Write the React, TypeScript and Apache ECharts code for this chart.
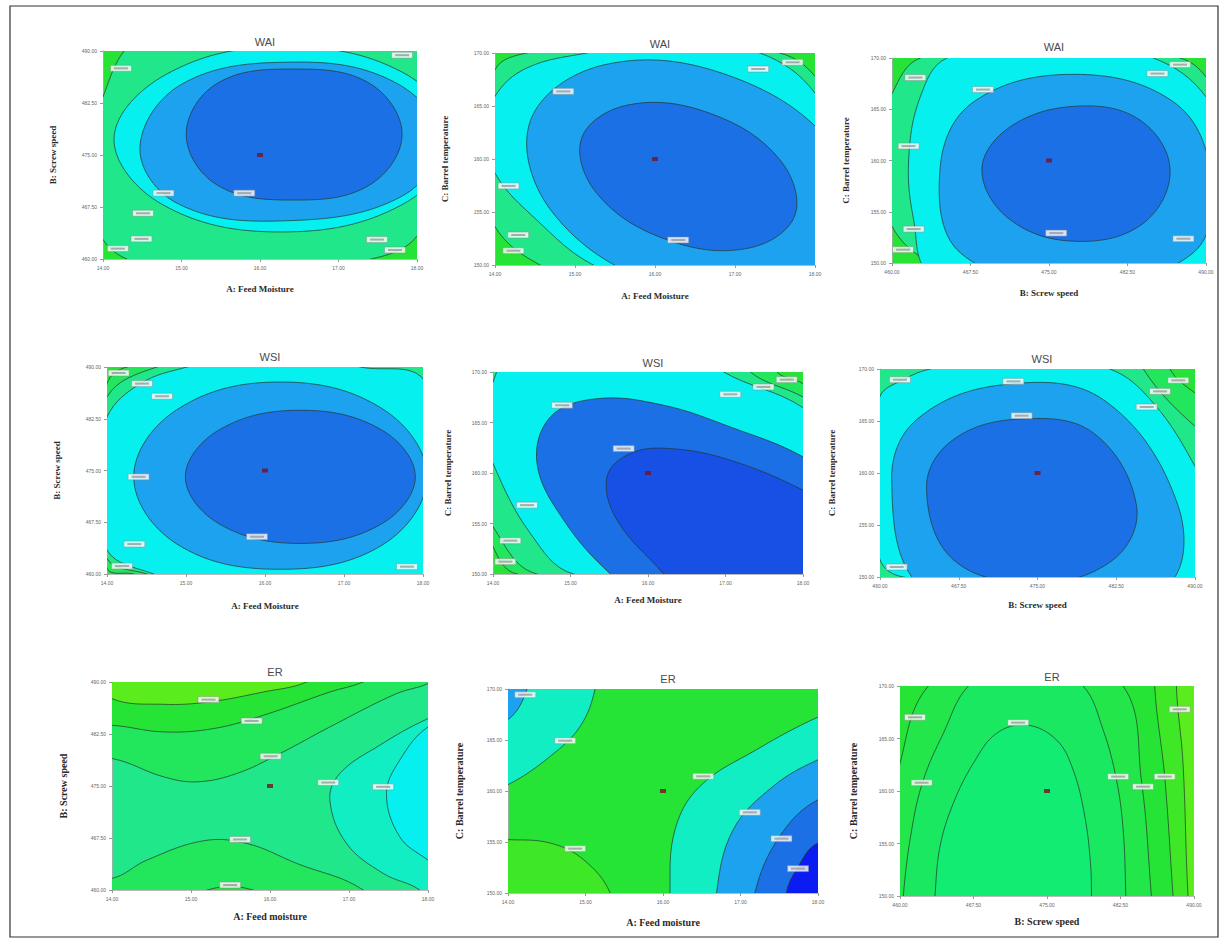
import React, { useEffect, useRef } from "react";
import * as echarts from "echarts";

// ---------- axis tick values ----------
const feedMoistureTicks = [14, 15, 16, 17, 18];
const screwSpeedTicks = [460, 467.5, 475, 482.5, 490];
const barrelTempTicks = [150, 155, 160, 165, 170];

// ---------- contour regions (band index, vertices in factor units) ----------
type Region = { band: number; pts: number[][] };

const waiAB: Region[] = [
  { band: 4, pts: [[14.47, 491.6], [14.0, 483.4], [13.83, 472.9], [14.0, 462.8], [14.6, 459], [16.17, 458], [17.19, 459.4], [18.0, 463.3], [18.3, 475.3], [18.3, 491.6], [16.17, 492.5]] },
  { band: 6, pts: [[14.14, 477.4], [14.8, 486.6], [16.26, 490.6], [17.82, 486.9], [18.46, 477.4], [17.82, 467.9], [16.26, 463.9], [14.75, 467.9]] },
  { band: 7, pts: [[14.47, 476], [15.0, 485.2], [16.4, 488.4], [17.7, 485.6], [18.3, 477.5], [17.8, 469], [16.3, 465.5], [14.95, 468]] },
  { band: 8, pts: [[15.06, 478], [15.45, 485.3], [16.43, 487.4], [17.4, 485.3], [17.81, 478], [17.4, 470.7], [16.43, 468.5], [15.45, 470.7]] },
];
const waiABLabels = [[14.23, 487.5], [17.81, 489.4], [14.77, 469.5], [15.8, 469.5], [14.51, 466.6], [14.49, 462.9], [14.19, 461.5], [17.49, 462.8], [17.72, 461.3]];

const waiAC: Region[] = [
  { band: 4, pts: [[14.396, 170], [16.104, 171.89], [17.5625, 170], [18.0, 167.8], [18.604, 160.55], [18.604, 144.8], [16.104, 144.8], [14.5625, 150.0], [14.0, 153.62], [13.729, 160.55], [14.0, 168.43]] },
  { band: 6, pts: [[15.146, 170], [16.229, 171.26], [17.313, 170], [18.0, 166.22], [18.604, 157.4], [18.396, 146.38], [16.521, 146.38], [15.229, 150.0], [14.521, 154.25], [14.0, 158.66], [13.896, 162.44], [14.0, 165.91], [14.396, 168.58]] },
  { band: 7, pts: [[18.516, 152.43], [17.587, 147.17], [16.009, 148.26], [14.707, 155.08], [14.443, 163.63], [15.372, 168.9], [16.95, 167.8], [18.252, 160.98]] },
  { band: 8, pts: [[17.748, 154.68], [17.157, 151.57], [16.132, 152.43], [15.273, 156.75], [15.085, 162.01], [15.677, 165.12], [16.702, 164.27], [17.56, 159.94]] },
];
const waiACLabels = [[14.854, 166.38], [17.72, 169.12], [17.29, 168.49], [14.17, 157.46], [14.29, 152.83], [14.23, 151.35], [16.29, 152.36]];

const waiBC: Region[] = [
  { band: 4, pts: [[462.7, 170], [475.43, 172.37], [487.52, 170], [490.0, 168.15], [494.52, 160.7], [494.52, 144.49], [475.43, 144.49], [463.66, 150.0], [460.0, 153.57], [457.93, 160.7], [460.0, 166.53]] },
  { band: 6, pts: [[465.25, 170], [475.43, 172.04], [484.98, 170], [490.0, 166.21], [493.25, 158.76], [491.98, 147.09], [475.43, 145.79], [463.66, 149.03], [462.07, 154.21], [461.59, 160.05], [462.7, 166.21]] },
  { band: 7, pts: [[464.61, 159.4], [467.8, 165.72], [477.34, 168.41], [486.89, 165.72], [490.38, 159.08], [488.79, 151.0], [477.34, 148.1], [466.52, 151.0]] },
  { band: 8, pts: [[468.59, 159.08], [471.3, 163.29], [477.66, 165.3], [483.7, 163.94], [486.57, 159.08], [484.02, 153.89], [477.66, 152.11], [471.3, 154.21]] },
];
const waiBCLabels = [[462.23, 168.09], [487.52, 169.35], [485.36, 168.48], [468.69, 166.92], [461.59, 161.41], [462.07, 153.31], [461.05, 151.3], [475.69, 152.92], [487.84, 152.37]];

const wsiAB: Region[] = [
  { band: 3, pts: [[14.253, 490], [16.11, 493.86], [18.219, 493.86], [18.43, 474.08], [18.219, 454.3], [16.11, 454.3], [14.338, 460], [14, 460.82], [13.789, 474.08], [14, 487.59]] },
  { band: 4, pts: [[14.633, 490], [16.11, 493.86], [18.43, 493.86], [18.473, 474.08], [18.43, 454.3], [16.11, 454.3], [14.506, 460], [14, 462.26], [13.831, 474.08], [14, 485.66]] },
  { band: 6, pts: [[15.013, 490], [16.11, 492.89], [17.207, 490], [18.0, 488.31], [18.473, 474.08], [18.219, 455.75], [16.11, 454.3], [14.591, 460], [14.0, 463.47], [13.873, 474.08], [14.0, 482.76], [14.422, 487.59]] },
  { band: 7, pts: [[14.338, 474.08], [14.882, 483.8], [16.194, 487.83], [17.506, 483.8], [18.051, 474.08], [17.506, 464.36], [16.194, 460.68], [14.882, 464.36]] },
  { band: 8, pts: [[14.992, 474.08], [15.418, 480.88], [16.447, 483.73], [17.477, 480.88], [17.903, 474.08], [17.477, 467.28], [16.447, 464.43], [15.418, 467.28]] },
];
const wsiABLabels = [[14.148, 489.13], [14.443, 487.59], [14.696, 485.76], [14.4, 474.08], [14.346, 464.34], [14.19, 461.15], [15.899, 465.4], [17.797, 461.06]];

const wsiAC: Region[] = [
  { band: 3, pts: [[13.535, 173.46], [17.665, 171.81], [17.665, 170], [18.0, 168.85], [18.654, 165.22], [18.654, 145.45], [14.31, 150.0], [14.0, 152.7], [13.535, 161.93]] },
  { band: 4, pts: [[13.535, 173.46], [17.32, 171.81], [17.32, 170], [18.0, 167.53], [18.611, 164.56], [18.611, 145.45], [14.568, 150.0], [14.0, 154.68], [13.535, 161.93]] },
  { band: 6, pts: [[14.181, 171.15], [16.933, 171.15], [16.976, 170], [18.0, 166.47], [18.568, 161.93], [18.568, 145.45], [15.041, 150.0], [14.482, 154.02], [14.0, 160.94], [13.837, 165.22], [14.0, 169.01]] },
  { band: 8, pts: [[15.514, 150.0], [14.912, 155.34], [14.568, 160.94], [14.74, 165.55], [15.342, 167.36], [16.202, 166.71], [17.062, 164.56], [18.0, 161.6], [18.611, 157.97], [18.611, 145.45], [16.202, 146.11]] },
  { band: 9, pts: [[16.202, 150.0], [15.6, 155.34], [15.471, 159.62], [15.772, 161.93], [16.288, 162.42], [17.062, 161.27], [18.0, 158.3], [18.611, 155.34], [18.611, 145.45], [16.632, 146.11]] },
];
const wsiACLabels = [[14.89, 166.71], [15.686, 162.42], [17.062, 167.79], [17.49, 168.52], [17.79, 169.24], [14.439, 156.82], [14.224, 153.3], [14.159, 151.22]];

const wsiBC: Region[] = [
  { band: 3, pts: [[456.19, 172.82], [487.62, 172.18], [487.62, 170], [490, 167.69], [493.97, 165.13], [493.97, 145.9], [456.19, 145.9]] },
  { band: 4, pts: [[456.19, 172.82], [485.08, 172.18], [485.08, 170], [490, 164.49], [493.97, 161.92], [493.97, 145.9], [456.19, 145.9]] },
  { band: 6, pts: [[464.76, 170], [473.33, 171.54], [481.9, 170], [486.03, 166.73], [490, 160.64], [493.97, 152.31], [492.38, 145.9], [462.22, 150], [460, 151.67], [458.73, 160.32], [460, 167.37], [462.22, 168.97]] },
  { band: 7, pts: [[461.11, 159.36], [463.49, 165.13], [471.75, 168.49], [481.27, 167.05], [488.41, 156.79], [487.3, 149.1], [474.92, 145.9], [463.81, 149.1]] },
  { band: 8, pts: [[464.44, 158.72], [466.98, 163.21], [473.33, 165.19], [480.32, 163.85], [484.44, 156.79], [482.22, 151.67], [474.92, 149.42], [466.98, 151.67]] },
];
const wsiBCLabels = [[461.9, 168.97], [472.7, 168.81], [473.49, 165.51], [488.41, 168.91], [486.67, 167.85], [485.4, 166.35], [461.59, 150.96]];

const erAB: Region[] = [
  { band: 3, pts: [[13.389, 492.64], [13.389, 478.96], [14, 478.96], [14.653, 476.32], [15.074, 475.6], [15.579, 476.8], [16.126, 479.68], [16.758, 483.52], [17.6, 488.32], [18, 489.76], [18.442, 492.64]] },
  { band: 2, pts: [[13.389, 492.64], [13.389, 483.76], [14, 483.76], [14.653, 482.8], [15.284, 483.28], [15.916, 485.2], [16.758, 488.56], [17.179, 490], [17.6, 492.64]] },
  { band: 0, pts: [[13.389, 492.64], [14, 487.6], [14.653, 486.78], [15.221, 487.12], [15.916, 488.56], [16.463, 490], [16.758, 492.64]] },
  { band: 3, pts: [[13.389, 454.23], [13.389, 461.68], [14, 461.68], [14.442, 464.32], [15.158, 467.1], [15.705, 466.72], [16.337, 463.84], [17.179, 460], [17.6, 454.23]] },
  { band: 2, pts: [[14.864, 458.07], [15.495, 460.57], [16.126, 458.07]] },
  { band: 5, pts: [[18.442, 486.4], [18, 484.72], [17.389, 480.88], [16.884, 476.8], [16.758, 472.96], [16.968, 466.72], [17.432, 462.4], [17.895, 460], [18.442, 454.23]] },
  { band: 6, pts: [[18.442, 484.96], [18, 483.52], [17.642, 478.72], [17.474, 473.92], [17.642, 467.68], [18, 464.32], [18.442, 460.96]] },
];
const erABLabels = [[15.221, 487.46], [15.768, 484.38], [16.008, 479.29], [16.737, 475.5], [17.432, 474.88], [15.621, 467.29], [15.495, 460.72]];

const erAC: Region[] = [
  { band: 1, pts: [[13.558, 155.23], [14, 155.23], [14.545, 154.9], [14.974, 153.27], [15.318, 150], [15.361, 146.41], [13.558, 146.41]] },
  { band: 5, pts: [[13.558, 172.55], [15.124, 172.55], [15.124, 170], [14.931, 166.34], [14.545, 163.4], [14, 160.62], [13.558, 159.48]] },
  { band: 7, pts: [[13.558, 172.55], [14.245, 172.55], [14.245, 170], [14, 166.99], [13.558, 166.01]] },
  { band: 5, pts: [[18.708, 169.28], [18, 167.25], [17.206, 164.05], [16.476, 160.46], [16.155, 156.21], [16.09, 150], [16.133, 146.41], [18.708, 146.41]] },
  { band: 7, pts: [[18.708, 165.03], [18, 163.07], [17.421, 160.46], [16.906, 156.21], [16.691, 150], [16.734, 146.41], [18.708, 146.41]] },
  { band: 8, pts: [[18.708, 160.46], [18, 159.15], [17.506, 155.56], [17.185, 150], [17.206, 146.41], [18.708, 146.41]] },
  { band: 10, pts: [[18.708, 155.56], [18, 154.9], [17.721, 152.29], [17.592, 150], [17.592, 146.41], [18.708, 146.41]] },
];
const erACLabels = [[14.223, 169.44], [14.738, 164.93], [16.519, 161.44], [17.12, 157.91], [17.528, 155.33], [17.742, 152.39], [14.867, 154.35]];

const erBC: Region[] = [
  { band: 1, pts: [[453.88, 178.51], [488.2, 178.51], [488.2, 170], [488.88, 162.63], [489.39, 150], [489.9, 145.17], [453.88, 145.17]] },
  { band: 2, pts: [[453.88, 178.51], [485.99, 178.51], [485.99, 170], [487.01, 161.37], [487.86, 150], [488.2, 145.17], [453.88, 145.17]] },
  { band: 13, pts: [[458.3, 145.17], [458.98, 156.29], [460, 162.63], [462.89, 170], [472.91, 176.92], [482.77, 170], [484.63, 161.05], [485.65, 150], [485.99, 145.17]] },
  { band: 11, pts: [[460.17, 145.17], [460.34, 150], [461.19, 156.29], [462.38, 161.05], [464.42, 165.49], [466.97, 170], [472.91, 174.06], [478.69, 170], [480.73, 165.81], [482.09, 161.05], [482.77, 156.29], [483.04, 150], [483.11, 145.17]] },
  { band: 12, pts: [[463.57, 148.35], [463.57, 150], [464.08, 154.7], [465.44, 158.83], [467.48, 162.63], [469.85, 165.49], [472.91, 166.29], [475.97, 164.86], [477.67, 162.0], [478.86, 157.56], [479.44, 153.11], [479.54, 150], [479.54, 148.35]] },
];
const erBCLabels = [[461.53, 167.02], [472.06, 166.51], [462.21, 160.79], [482.26, 161.37], [484.8, 160.41], [487.01, 161.37], [488.54, 167.78]];

// design centre point of each plot
const centerAB = [16, 475];
const centerAC = [16, 160];
const centerBC = [475, 160];

const panelTitles = ["WAI", "WAI", "WAI", "WSI", "WSI", "WSI", "ER", "ER", "ER"];
const xNames = ["A: Feed Moisture", "A: Feed Moisture", "B: Screw speed", "A: Feed Moisture", "A: Feed Moisture", "B: Screw speed", "A: Feed moisture", "A: Feed moisture", "B: Screw speed"];
const yNames = ["B: Screw speed", "C: Barrel temperature", "C: Barrel temperature", "B: Screw speed", "C: Barrel temperature", "C: Barrel temperature", "B: Screw speed", "C: Barrel temperature", "C: Barrel temperature"];

// ---------- styling / layout ----------
const bandColors = [
  "#5aec1c", "#3ee826", "#26e436", "#22e65c", "#1fe78a", "#12eec4",
  "#06f0f0", "#1ca2ee", "#1c70e6", "#1650e4", "#0a1cf2", "#1ae860",
  "#12ec72", "#22e64a",
];

type Panel = {
  regions: Region[];
  labels: number[][];
  center: number[];
  xTicks: number[];
  yTicks: number[];
  bg: number;
};

const panels: Panel[] = [
  { regions: waiAB, labels: waiABLabels, center: centerAB, xTicks: feedMoistureTicks, yTicks: screwSpeedTicks, bg: 2 },
  { regions: waiAC, labels: waiACLabels, center: centerAC, xTicks: feedMoistureTicks, yTicks: barrelTempTicks, bg: 2 },
  { regions: waiBC, labels: waiBCLabels, center: centerBC, xTicks: screwSpeedTicks, yTicks: barrelTempTicks, bg: 2 },
  { regions: wsiAB, labels: wsiABLabels, center: centerAB, xTicks: feedMoistureTicks, yTicks: screwSpeedTicks, bg: 2 },
  { regions: wsiAC, labels: wsiACLabels, center: centerAC, xTicks: feedMoistureTicks, yTicks: barrelTempTicks, bg: 2 },
  { regions: wsiBC, labels: wsiBCLabels, center: centerBC, xTicks: screwSpeedTicks, yTicks: barrelTempTicks, bg: 2 },
  { regions: erAB, labels: erABLabels, center: centerAB, xTicks: feedMoistureTicks, yTicks: screwSpeedTicks, bg: 4 },
  { regions: erAC, labels: erACLabels, center: centerAC, xTicks: feedMoistureTicks, yTicks: barrelTempTicks, bg: 2 },
  { regions: erBC, labels: erBCLabels, center: centerBC, xTicks: screwSpeedTicks, yTicks: barrelTempTicks, bg: 0 },
];

// [left, top, width, height, xNameGap, yNameGap, titleX, titleY, nameSize]
const layout = [
  [103, 51, 314, 208, 25, 46, 260, 43, 9],
  [495, 53, 320, 212, 26, 46, 655, 45, 9],
  [892, 58, 314, 205, 25, 42, 1049, 48, 9],
  [107, 367, 316, 207, 27, 46, 265, 358, 9],
  [493, 372, 310, 202, 21, 41, 648, 364, 9],
  [880, 369, 315, 208, 23, 44, 1037, 360, 9],
  [112, 682, 316, 208, 21, 44, 270, 673, 10],
  [508, 689, 310, 204, 24, 44, 663, 680, 10],
  [900, 686, 294, 210, 20, 42, 1047, 678, 10],
];

function buildOption() {
  const grid: any[] = [];
  const xAxis: any[] = [];
  const yAxis: any[] = [];
  const title: any[] = [];
  const series: any[] = [];
  const nameStyle = (size: number) => ({
    fontFamily: "Liberation Serif",
    fontWeight: "bold",
    fontSize: size,
    color: "#2a2a2a",
  });
  const tickLabel = {
    fontSize: 5,
    color: "#666",
    fontFamily: "Liberation Sans",
    formatter: (v: number) => v.toFixed(2),
  };
  panels.forEach((p, i) => {
    const [l, t, w, h, xGap, yGap, tx, ty, ns] = layout[i];
    grid.push({
      left: l,
      top: t,
      width: w,
      height: h,
      show: true,
      backgroundColor: bandColors[p.bg],
      borderWidth: 0,
    });
    title.push({
      text: panelTitles[i],
      left: tx,
      top: ty - 12,
      textAlign: "center",
      textStyle: { fontSize: 11, fontWeight: "normal", color: "#4a4a4a", fontFamily: "Liberation Sans" },
    });
    xAxis.push({
      gridIndex: i,
      type: "value",
      min: p.xTicks[0],
      max: p.xTicks[p.xTicks.length - 1],
      name: xNames[i],
      nameLocation: "middle",
      nameGap: xGap,
      nameTextStyle: nameStyle(ns),
      axisLine: { show: true, lineStyle: { color: "#aaa", width: 0.8 } },
      axisTick: { show: true, length: 3, customValues: p.xTicks, lineStyle: { color: "#999" } },
      axisLabel: { ...tickLabel, margin: 6, customValues: p.xTicks },
      splitLine: { show: false },
    });
    yAxis.push({
      gridIndex: i,
      type: "value",
      min: p.yTicks[0],
      max: p.yTicks[p.yTicks.length - 1],
      name: yNames[i],
      nameLocation: "middle",
      nameGap: yGap,
      nameRotate: 90,
      nameTextStyle: nameStyle(ns),
      axisLine: { show: true, lineStyle: { color: "#aaa", width: 0.8 } },
      axisTick: { show: true, length: 3, customValues: p.yTicks, lineStyle: { color: "#999" } },
      axisLabel: { ...tickLabel, margin: 6, customValues: p.yTicks },
      splitLine: { show: false },
    });
    const regions = p.regions;
    series.push({
      type: "custom",
      coordinateSystem: "cartesian2d",
      xAxisIndex: i,
      yAxisIndex: i,
      clip: true,
      silent: true,
      z: 2,
      data: regions.map((r) => r.pts[0]),
      renderItem: (params: any, api: any) => {
        const r = regions[params.dataIndex];
        const points = r.pts.map((pt) => api.coord(pt));
        return {
          type: "polygon",
          shape: { points, smooth: 0.38 },
          style: { fill: bandColors[r.band], stroke: "#24352c", lineWidth: 0.7 },
        };
      },
    });
    // contour value boxes
    series.push({
      type: "scatter",
      xAxisIndex: i,
      yAxisIndex: i,
      silent: true,
      z: 4,
      symbol: "rect",
      symbolSize: [21, 6],
      itemStyle: { color: "#ffffff", borderColor: "#888", borderWidth: 0.5 },
      data: p.labels,
    });
    series.push({
      type: "scatter",
      xAxisIndex: i,
      yAxisIndex: i,
      silent: true,
      z: 5,
      symbol: "rect",
      symbolSize: [14, 2],
      itemStyle: { color: "#9a9a9a" },
      data: p.labels,
    });
    // design centre point
    series.push({
      type: "scatter",
      xAxisIndex: i,
      yAxisIndex: i,
      silent: true,
      z: 6,
      symbol: "rect",
      symbolSize: [6, 4],
      itemStyle: { color: "#7a1020" },
      data: [p.center],
    });
  });
  return {
    animation: false,
    backgroundColor: "#ffffff",
    title,
    grid,
    xAxis,
    yAxis,
    series,
    graphic: [
      {
        type: "rect",
        silent: true,
        shape: { x: 10, y: 6, width: 1208, height: 931 },
        style: { fill: "none", stroke: "#333", lineWidth: 1.2 },
      },
    ],
  };
}

export default function App() {
  const ref = useRef<HTMLDivElement>(null);
  useEffect(() => {
    if (!ref.current) return;
    const chart = echarts.init(ref.current, undefined, { renderer: "svg" });
    chart.setOption(buildOption() as any);
    return () => chart.dispose();
  }, []);
  return (
    <div
      ref={ref}
      style={{ position: "absolute", left: 0, top: 0, width: 1228, height: 946, background: "#fff" }}
    />
  );
}
